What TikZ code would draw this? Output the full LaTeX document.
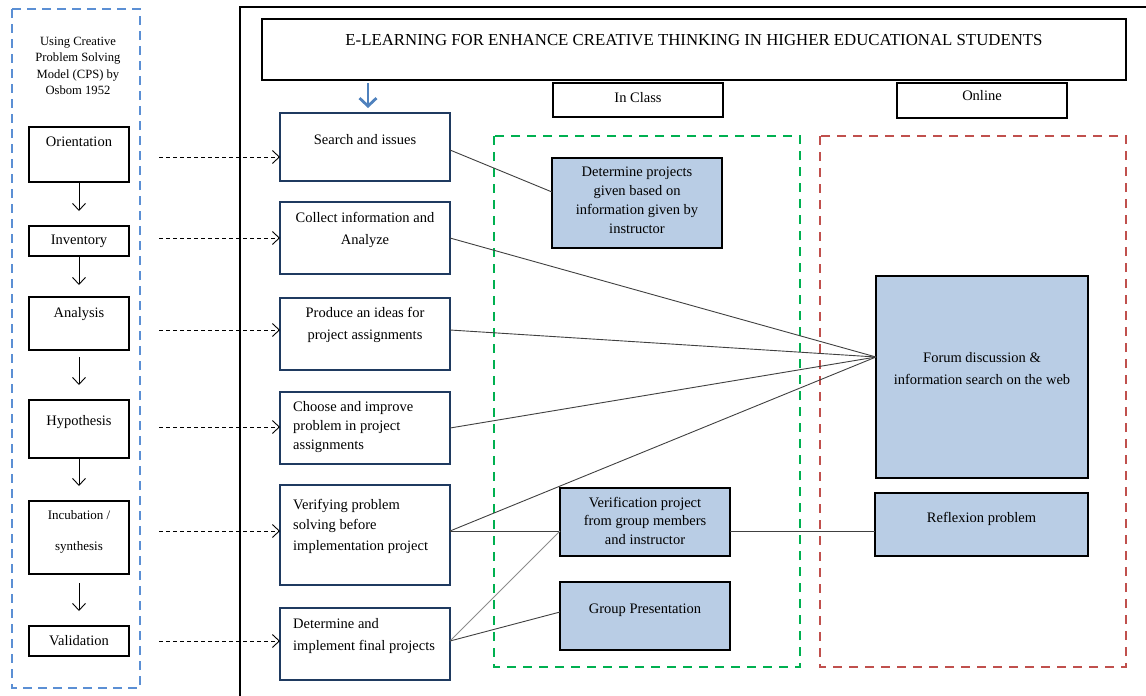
\documentclass[tikz,border=0pt]{standalone}
\usepackage{fontspec}
\setmainfont{Liberation Serif}
\usepackage{tikz}
\usetikzlibrary{arrows.meta, positioning}

\definecolor{cpsblue}{HTML}{5B8FD4}
\definecolor{navy}{HTML}{1F3A60}
\definecolor{taskfill}{HTML}{B9CDE5}
\definecolor{classgreen}{HTML}{00B050}
\definecolor{onlinered}{HTML}{C0504D}
\definecolor{arrowblue}{HTML}{4F81BD}

\begin{document}
\begin{tikzpicture}[
  x=1pt, y=-1pt,
  cps/.style={draw, line width=1.6pt, inner sep=0pt, outer sep=0pt, anchor=north west, minimum width=100},
  stage/.style={draw=navy, line width=1.6pt, inner sep=0pt, outer sep=0pt, anchor=north west, minimum width=170, minimum height=72},
  task/.style={draw, fill=taskfill, line width=1.8pt, inner sep=0pt, outer sep=0pt, anchor=north west},
  head/.style={draw, line width=1.8pt, inner sep=0pt, outer sep=0pt, anchor=north west},
  txt/.style={inner sep=0pt, align=center, font=\fontsize{14.5}{19}\selectfont},
  txtw/.style={txt, font=\fontsize{14.5}{22}\selectfont},
  frame/.style={line width=1.8pt},
  cpsframe/.style={draw=cpsblue, line width=1.6pt, dash pattern=on 9pt off 6pt},
  classframe/.style={draw=classgreen, line width=1.6pt, dash pattern=on 9pt off 7pt},
  onlineframe/.style={draw=onlinered, line width=1.6pt, dash pattern=on 9pt off 7pt},
  cpsarr/.style={-{Straight Barb[length=7pt,width=13pt]}, line width=0.9pt, shorten >=15pt},
  dasharr/.style={-{Straight Barb[length=7pt,width=13pt]}, line width=0.9pt, dash pattern=on 4pt off 3pt},
  bluearr/.style={-{Straight Barb[length=8pt,width=17pt]}, draw=arrowblue, line width=2.8pt},
  link/.style={draw=black!75, line width=0.9pt}
]
\useasboundingbox (0,0) rectangle (1146,696);

% outer frame and title
\draw[frame] (240,696) -- (240,7) -- (1146,7);
\node[head, minimum width=864, minimum height=61] (title) at (262,19) {};
\node[txt, font=\fontsize{16.8}{20}\selectfont, below=15.5pt of title.north] (title-t) {E-LEARNING FOR ENHANCE CREATIVE THINKING IN HIGHER EDUCATIONAL STUDENTS};
\node[head, minimum width=170, minimum height=34] (inclass) at (553,83) {};
\node[txt, below=9pt of inclass.north] (inclass-t) {In Class};
\node[head, minimum width=170, minimum height=35] (online) at (897,83) {};
\node[txt, below=7.5pt of online.north] (online-t) {Online};

% CPS model (left)
\draw[cpsframe] (12,9) rectangle (140,688);
\node[txt, font=\fontsize{12.6}{16.3}\selectfont, anchor=north] (cps-t) at (78,37) {Using Creative\\Problem Solving\\Model (CPS) by\\Osbom 1952};

\node[cps, minimum height=55] (orient) at (29,127) {};
\node[txt, below=10pt of orient.north] (orient-t) {Orientation};
\node[cps, minimum height=30] (invent) at (29,226) {};
\node[txt] (invent-t) at (invent) {Inventory};
\node[cps, minimum height=53] (analys) at (29,297) {};
\node[txt, below=10pt of analys.north] (analys-t) {Analysis};
\node[cps, minimum height=58] (hypo) at (29,400) {};
\node[txt, below=15pt of hypo.north] (hypo-t) {Hypothesis};
\node[cps, minimum height=73] (incub) at (29,501) {};
\node[txt, font=\fontsize{13}{31}\selectfont, below=9.5pt of incub.north] (incub-t) {Incubation /\\synthesis};
\node[cps, minimum height=30] (valid) at (29,626) {};
\node[txt] (valid-t) at (valid) {Validation};

\draw[cpsarr] (orient.south) -- (invent.north);
\draw[cpsarr, shorten >=12pt] (invent.south) -- (analys.north);
\draw[cpsarr, shorten <=7pt] (analys.south) -- (hypo.north);
\draw[cpsarr] (hypo.south) -- (incub.north);
\draw[cpsarr, shorten <=9pt] (incub.south) -- (valid.north);

% learning stages
\node[stage, minimum height=68] (search) at (280,113) {};
\node[txt, below=21pt of search.north] (search-t) {Search and issues};
\node[stage] (collect) at (280,202) {};
\node[txtw, below=10pt of collect.north] (collect-t) {Collect information and\\Analyze};
\node[stage] (produce) at (280,298) {};
\node[txtw, below=9pt of produce.north] (produce-t) {Produce an ideas for\\project assignments};
\node[stage] (choose) at (280,392) {};
\node[txt, align=left, below right=9pt and 13pt of choose.north west] (choose-t) {Choose and improve\\problem in project\\assignments};
\node[stage, minimum height=100] (verify) at (280,485) {};
\node[txt, align=left, font=\fontsize{14.5}{20.5}\selectfont, below right=14pt and 13pt of verify.north west] (verify-t) {Verifying problem\\solving before\\implementation project};
\node[stage] (final) at (280,608) {};
\node[txtw, align=left, below right=10pt and 13pt of final.north west] (final-t) {Determine and\\implement final projects};

\draw[bluearr, shorten <=3pt, shorten >=5pt] ([xshift=3pt]title.south -| search.north) -- ([xshift=3pt]search.north);

\draw[dasharr] ([shift={(30,2.5)}]orient.east) coordinate (d1) -- (d1 -| search.west);
\draw[dasharr] ([shift={(30,-3)}]invent.east) coordinate (d2) -- (d2 -| collect.west);
\draw[dasharr] ([shift={(30,6.5)}]analys.east) coordinate (d3) -- (d3 -| produce.west);
\draw[dasharr] ([shift={(30,-2)}]hypo.east) coordinate (d4) -- (d4 -| choose.west);
\draw[dasharr] ([shift={(30,-6.5)}]incub.east) coordinate (d5) -- (d5 -| verify.west);
\draw[dasharr] ([shift={(30,0)}]valid.east) coordinate (d6) -- (d6 -| final.west);

% in class / online
\draw[classframe] (494,136) rectangle (800,667);
\draw[onlineframe] (820,136) rectangle (1126,667);

\node[task, minimum width=170, minimum height=90] (detproj) at (552,158) {};
\node[txt, below=9pt of detproj.north] (detproj-t) {Determine projects\\given based on\\information given by\\instructor};
\node[task, minimum width=170, minimum height=68] (verif) at (560,488) {};
\node[txt, font=\fontsize{14.5}{18.5}\selectfont, below=9pt of verif.north] (verif-t) {Verification project\\from group members\\and instructor};
\node[task, minimum width=170, minimum height=68] (group) at (560,582) {};
\node[txt, below=22pt of group.north] (group-t) {Group Presentation};
\node[task, minimum width=212, minimum height=202] (forum) at (876,276) {};
\node[txtw, below=76pt of forum.north] (forum-t) {Forum discussion \&\\information search on the web};
\node[task, minimum width=213, minimum height=63] (reflex) at (875,493) {};
\node[txt, below=19pt of reflex.north] (reflex-t) {Reflexion problem};

\coordinate (forumin) at ([shift={(0,-20)}]forum.west);
\coordinate (vmid) at ([shift={(0,-4)}]verify.east);
\draw[link] ([shift={(0,3)}]search.east) -- ([shift={(0,-11)}]detproj.west);
\draw[link] (collect.east) -- (forumin);
\draw[link] ([shift={(0,-4)}]produce.east) -- (forumin);
\draw[link] (choose.east) -- (forumin);
\draw[link] (vmid) -- (forumin);
\draw[link] (vmid) -- (vmid -| verif.west);
\draw[link] (vmid -| verif.east) -- (vmid -| reflex.west);
\draw[link, draw=black!45] ([shift={(0,-3)}]final.east) -- (vmid -| verif.west);
\draw[link] ([shift={(0,-3)}]final.east) -- ([shift={(0,-4)}]group.west);
\end{tikzpicture}
\end{document}
